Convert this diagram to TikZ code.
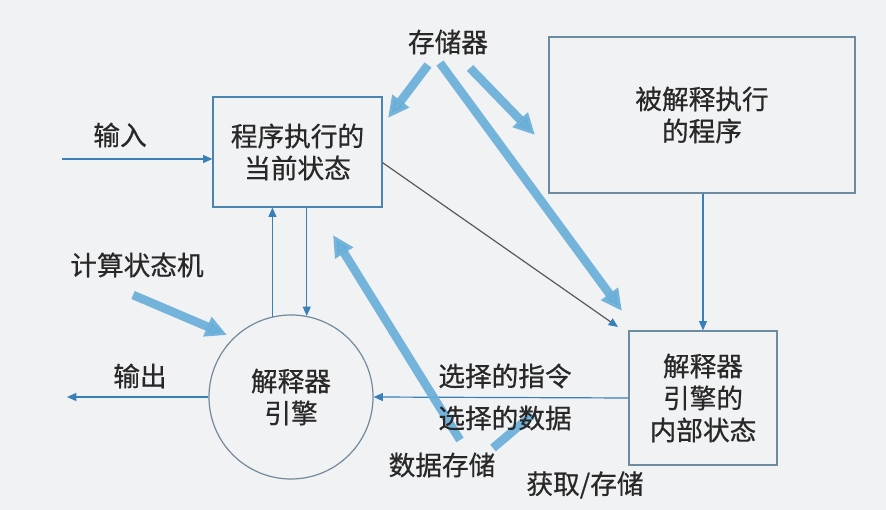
\documentclass[tikz,border=0pt]{standalone}
\usepackage{fontspec}
\newfontfamily\cjk[FakeBold=0.6]{Noto Sans CJK SC}
\usetikzlibrary{arrows.meta}
\definecolor{bgc}{RGB}{241,242,244}
\definecolor{edgec}{RGB}{58,128,184}
\definecolor{boxc}{RGB}{110,140,160}
\definecolor{fatc}{RGB}{104,174,216}
\definecolor{txtc}{RGB}{40,40,40}
\begin{document}
\begin{tikzpicture}[x=0.75pt,y=0.75pt,
  font=\cjk\fontsize{20}{24}\selectfont,text=txtc,
  box/.style={draw=boxc,line width=0.9pt,align=center,inner sep=0pt},
  lbl/.style={inner sep=0pt},
  flow/.style={draw=edgec,line width=0.9pt,-{Triangle[length=7pt,width=6pt]}},
  fat/.style={draw=fatc,line width=6.5pt,-{Triangle[length=16pt,width=15pt]}}]
\fill[bgc] (0,0) rectangle (886,510);
\useasboundingbox (0,0) rectangle (886,510);
\node[box,draw=edgec!70!boxc,minimum width=126.75pt,minimum height=82.5pt] (state) at (297.5,358) {程序执行的\\当前状态};
\node[box,minimum width=229.5pt,minimum height=117pt] (prog) at (702,395) {被解释执行\\的程序};
\node[box,minimum width=111pt,minimum height=100.5pt] (inner) at (703,112) {解释器\\引擎的\\内部状态};
\node[box,draw=boxc!80!gray,circle,minimum size=123pt] (eng) at (291,113) {解释器\\引擎};
\node[lbl] (mem) at (448,468) {存储器};
\node[lbl] (inlbl) at (120,375) {输入};
\node[lbl] (csm) at (137,245) {计算状态机};
\node[lbl] (outlbl) at (140,134) {输出};
\coordinate (inL) at (62,351);
\coordinate (outR) at (67,113);
\coordinate (tipA) at (618,183);
\draw[flow] (inL) -- (inL -| state.west);
\draw[flow] (eng.west) -- (outR);
\draw[flow] (inner.west) -- (eng.east);
\draw[flow] (prog.south -| inner.north) -- (inner.north);
\draw[flow] (eng.103) -- (eng.103 |- state.south);
\draw[flow] (state.south -| eng.79) -- (eng.79);
\draw[flow,draw=black!65,-{Triangle[length=7pt,width=6pt,color=edgec]}] ([yshift=-8pt]state.east) -- (tipA);
\begin{scope}[opacity=0.9]
\draw[fat] (428,445) -- (388,392);
\draw[fat] (440,447) -- (622,199);
\draw[fat] (470,442) -- (535,375);
\draw[fat] (133,215) -- (227,175);
\draw[fat] (460,70) -- (333,275);
\draw[fat,-] (493,62) -- (532,95);
\end{scope}
\node[lbl] (selins) at (505,134) {选择的指令};
\node[lbl] (seldat) at (505,92) {选择的数据};
\node[lbl] (dstore) at (442,45) {数据存储};
\node[lbl] (fetch) at (585,25) {获取/存储};
\end{tikzpicture}
\end{document}
